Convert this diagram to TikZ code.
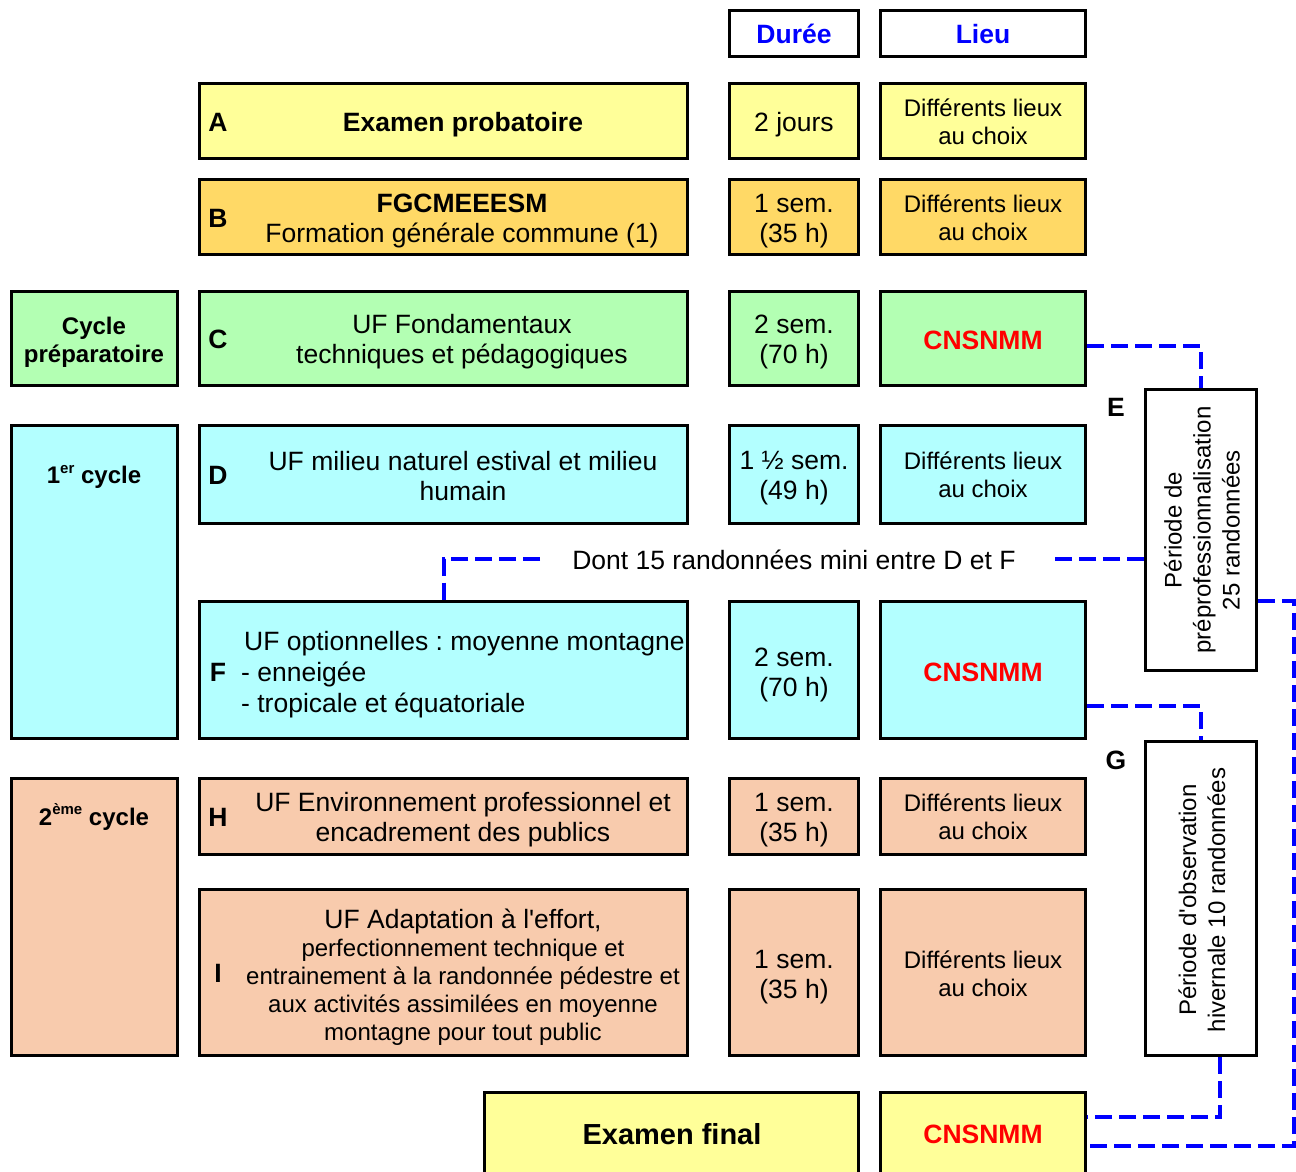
\documentclass[tikz,border=0pt]{standalone}
\usepackage{fontspec}
\setmainfont{Liberation Sans}
\usetikzlibrary{fit,backgrounds}
\definecolor{cyel}{HTML}{FFFF99}
\definecolor{corg}{HTML}{FFD966}
\definecolor{cgrn}{HTML}{B3FFB3}
\definecolor{ccya}{HTML}{B3FFFF}
\definecolor{cpea}{HTML}{F8CBAD}
\frenchspacing
\begin{document}
\begin{tikzpicture}[x=1pt,y=-1pt,
  box/.style={draw=black, line width=3pt, inner sep=0pt},
  txt/.style={inner sep=0pt, align=center, font=\fontsize{26.5}{30}\selectfont},
  small/.style={inner sep=0pt, align=center, font=\fontsize{24}{28}\selectfont},
  lbl/.style={inner sep=0pt, font=\bfseries\fontsize{26.5}{30}\selectfont},
  side/.style={inner sep=0pt, align=center, font=\bfseries\fontsize{24}{28}\selectfont},
  vtxt/.style={inner sep=0pt, align=center, rotate=90, font=\fontsize{24}{29}\selectfont},
  red/.style={inner sep=0pt, text=red, font=\bfseries\fontsize{26.5}{30}\selectfont},
  head/.style={inner sep=0pt, text=blue, font=\bfseries\fontsize{26.5}{30}\selectfont},
  link/.style={draw=blue, line width=4pt, dash pattern=on 17pt off 7pt}]
\useasboundingbox (0,0) rectangle (1296,1171);
\clip (0,0) rectangle (1296,1171);
% header
\node[box, fill=white, fit={(729.5,10.5) (858.5,56.5)}] (hD) {};
\node[box, fill=white, fit={(880.5,10.5) (1085.5,56.5)}] (hL) {};
\node[head] (hDt) at (794,34) {Durée};
\node[head] (hLt) at (983,34) {Lieu};
% row A
\node[box, fill=cyel, fit={(199.5,83.5) (687.5,158.5)}] (A) {};
\node[box, fill=cyel, fit={(729.5,83.5) (858.5,158.5)}] (Ad) {};
\node[box, fill=cyel, fit={(880.5,83.5) (1085.5,158.5)}] (Al) {};
\node[lbl] (Aletter) at (218,122) {A};
\node[lbl] (At) at (463,125) {Examen probatoire};
\node[txt] (Adt) at (794,125) {2 jours};
\node[small] (Alt) at (983,122) {Différents lieux\\au choix};
% row B
\node[box, fill=corg, fit={(199.5,179.5) (687.5,254.5)}] (B) {};
\node[box, fill=corg, fit={(729.5,179.5) (858.5,254.5)}] (Bd) {};
\node[box, fill=corg, fit={(880.5,179.5) (1085.5,254.5)}] (Bl) {};
\node[lbl] (Bletter) at (218,218) {B};
\node[txt] (Bt) at (462,221) {\textbf{FGCMEEESM}\\Formation générale commune (1)};
\node[txt] (Bdt) at (794,221) {1 sem.\\(35 h)};
\node[small] (Blt) at (983,218) {Différents lieux\\au choix};
% row C
\node[box, fill=cgrn, fit={(11.5,291.5) (177.5,385.5)}] (Cc) {};
\node[box, fill=cgrn, fit={(199.5,291.5) (687.5,385.5)}] (C) {};
\node[box, fill=cgrn, fit={(729.5,291.5) (858.5,385.5)}] (Cd) {};
\node[box, fill=cgrn, fit={(880.5,291.5) (1085.5,385.5)}] (Clieu) {};
\node[side] (Cct) at (94,342.5) {Cycle\\préparatoire};
\node[lbl] (Cletter) at (218,339) {C};
\node[txt] (Ct) at (462,342) {UF Fondamentaux\\techniques et pédagogiques};
\node[txt] (Cdt) at (794,342) {2 sem.\\(70 h)};
\node[red] (Clt) at (983,340) {CNSNMM};
% 1er cycle
\node[box, fill=ccya, fit={(11.5,425.5) (177.5,738.5)}] (C1) {};
\node[side] (C1t) at (94,477) {1\raisebox{0.42em}{\fontsize{15}{15}\selectfont er} cycle};
% row D
\node[box, fill=ccya, fit={(199.5,425.5) (687.5,523.5)}] (D) {};
\node[box, fill=ccya, fit={(729.5,425.5) (858.5,523.5)}] (Dd) {};
\node[box, fill=ccya, fit={(880.5,425.5) (1085.5,523.5)}] (Dl) {};
\node[lbl] (Dletter) at (218,475) {D};
\node[txt] (Dt) at (463,476) {UF milieu naturel estival et milieu\\humain};
\node[txt] (Ddt) at (794,478.5) {1 ½ sem.\\(49 h)};
\node[small] (Dlt) at (983,475) {Différents lieux\\au choix};
% row F
\node[box, fill=ccya, fit={(199.5,601.5) (687.5,738.5)}] (F) {};
\node[box, fill=ccya, fit={(729.5,601.5) (858.5,738.5)}] (Fd) {};
\node[box, fill=ccya, fit={(880.5,601.5) (1085.5,738.5)}] (Flieu) {};
\node[lbl] (Fletter) at (218,672) {F};
\node[txt, align=left, anchor=west, font=\fontsize{26.5}{31}\selectfont] (Ft) at (241,675) {\hspace{3pt}UF optionnelles : moyenne montagne\\- enneigée\\- tropicale et équatoriale};
\node[txt] (Fdt) at (794,675) {2 sem.\\(70 h)};
\node[red] (Flt) at (983,672) {CNSNMM};
% 2eme cycle
\node[box, fill=cpea, fit={(11.5,778.5) (177.5,1055.5)}] (C2) {};
\node[side] (C2t) at (94,817) {2\raisebox{0.42em}{\fontsize{15}{15}\selectfont ème} cycle};
% row H
\node[box, fill=cpea, fit={(199.5,778.5) (687.5,854.5)}] (H) {};
\node[box, fill=cpea, fit={(729.5,778.5) (858.5,854.5)}] (Hd) {};
\node[box, fill=cpea, fit={(880.5,778.5) (1085.5,854.5)}] (Hl) {};
\node[lbl] (Hletter) at (218,817) {H};
\node[txt] (Ht) at (463,820) {UF Environnement professionnel et\\encadrement des publics};
\node[txt] (Hdt) at (794,820) {1 sem.\\(35 h)};
\node[small] (Hlt) at (983,817) {Différents lieux\\au choix};
% row I
\node[box, fill=cpea, fit={(199.5,889.5) (687.5,1055.5)}] (I) {};
\node[box, fill=cpea, fit={(729.5,889.5) (858.5,1055.5)}] (Id) {};
\node[box, fill=cpea, fit={(880.5,889.5) (1085.5,1055.5)}] (Il) {};
\node[lbl] (Iletter) at (218,973) {I};
\node[txt] (It1) at (463,921) {UF Adaptation à l\textquotesingle effort,};
\node[small] (It2) at (463,992) {perfectionnement technique et\\entrainement à la randonnée pédestre et\\aux activités assimilées en moyenne\\montagne pour tout public};
\node[txt] (Idt) at (794,977) {1 sem.\\(35 h)};
\node[small] (Ilt) at (983,974) {Différents lieux\\au choix};
% final
\node[box, fill=cyel, fit={(484.5,1092.5) (858.5,1185)}] (X) {};
\node[box, fill=cyel, fit={(880.5,1092.5) (1085.5,1185)}] (Xlieu) {};
\node[inner sep=0pt, font=\bfseries\fontsize{29}{32}\selectfont] (Xt) at (672,1134) {Examen final};
\node[red] (Xlt) at (983,1134) {CNSNMM};
% E and G
\node[box, fill=white, fit={(1145.5,389.5) (1256.5,670.5)}] (E) {};
\node[vtxt] (Et) at (1202,530) {Période de\\préprofessionnalisation\\25 randonnées};
\node[lbl] (Elabel) at (1116,407) {E};
\node[box, fill=white, fit={(1145.5,741.5) (1256.5,1055.5)}] (G) {};
\node[vtxt] (Gt) at (1202,900) {Période d\textquotesingle observation\\hivernale 10 randonnées};
\node[lbl] (Glabel) at (1116,760) {G};
% middle text
\node[txt] (mid) at (794,560) {Dont 15 randonnées mini entre D et F};
% links
\coordinate (y346) at (0,346);
\coordinate (y559) at (0,559);
\coordinate (y601) at (0,601);
\coordinate (y706) at (0,706);
\coordinate (y1117) at (0,1117);
\coordinate (y1146) at (0,1146);
\coordinate (cR) at (1294,0);
\coordinate (c1220) at (1220,0);
\coordinate (dr) at (1050,559);
\coordinate (dl) at (540,559);
\begin{scope}[on background layer]
\draw[link] (Clieu.east |- y346) -| (E.north);
\draw[link] (E.west |- y559) -- (dr);
\draw[link] (dl) -| (F.north);
\draw[link] (E.east |- y601) -| (cR |- y1146) -- (Xlieu.east |- y1146);
\draw[link] (Flieu.east |- y706) -| (G.north);
\draw[link] (G.south -| c1220) |- (Xlieu.east |- y1117);
\end{scope}
\end{tikzpicture}
\end{document}
